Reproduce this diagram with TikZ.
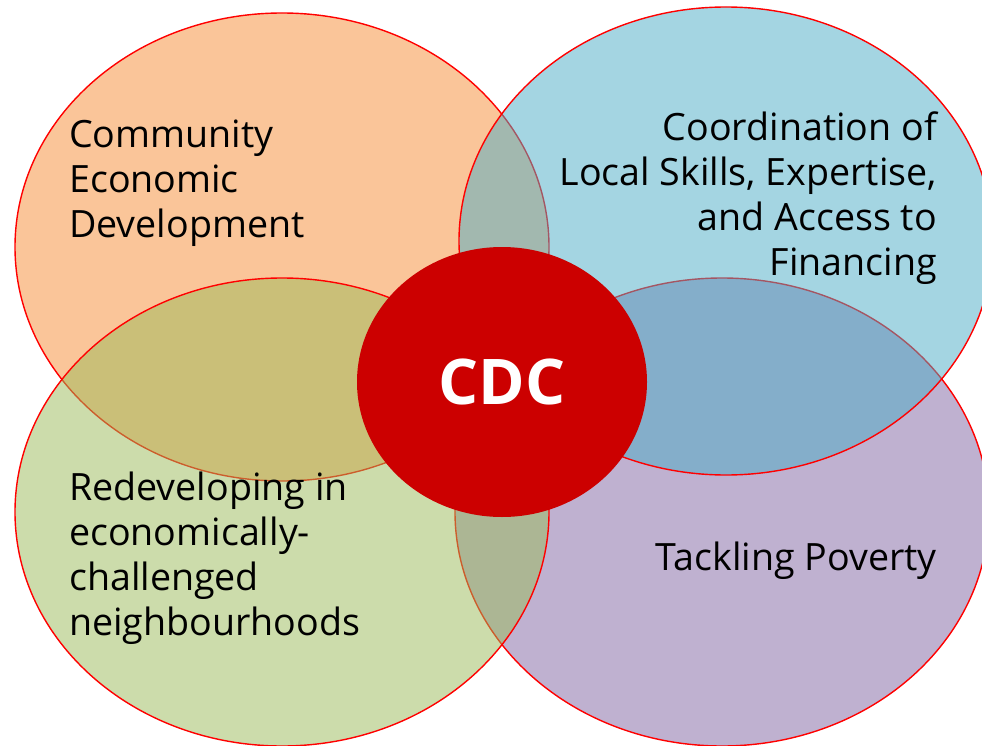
\documentclass[tikz,border=0pt]{standalone}
\usepackage{fontspec}
\setmainfont{Open Sans}
\usetikzlibrary{shapes.geometric}
\definecolor{corange}{HTML}{F79646}
\definecolor{cblue}{HTML}{4BACC6}
\definecolor{cgreen}{HTML}{9BBB59}
\definecolor{cpurple}{HTML}{8064A2}
\definecolor{cred}{HTML}{CC0000}
\tikzset{
  bubble/.style={ellipse, draw=red, line width=1.4pt, fill opacity=0.5,
    minimum width=534pt, minimum height=468pt, inner sep=0pt},
  label/.style={inner sep=0pt, font=\fontsize{37.6}{44.8}\selectfont, text=black},
}
\begin{document}
\begin{tikzpicture}[x=1pt,y=-1pt]
\useasboundingbox (0,0) rectangle (982,746);
\fill[white] (0,0) rectangle (982,746);
\node[bubble, fill=corange, fill opacity=0.55] (ced) at (282,247) {};
\node[bubble, fill=cpurple] (pov) at (722,512) {};
\node[bubble, fill=cgreen] (red) at (282,512) {};
\node[bubble, fill=cblue] (coord) at (726,241) {};
\node[ellipse, fill=cred, minimum width=290pt, minimum height=270pt, inner sep=0pt,
  text=white, font=\fontsize{63}{70}\selectfont\bfseries] (cdc) at (502,382) {CDC};
\node[label, anchor=base west, align=left] (t1) at (69,237)
  {Community\\Economic\\Development};
\node[label, anchor=base east, align=right] (t2) at (937,275)
  {Coordination of\\Local Skills, Expertise,\\and Access to\\Financing};
\node[label, anchor=base west, align=left] (t3) at (69,635)
  {Redeveloping in\\economically-\\challenged\\neighbourhoods};
\node[label, anchor=base east, align=right] (t4) at (937,570)
  {Tackling Poverty};
\end{tikzpicture}
\end{document}
